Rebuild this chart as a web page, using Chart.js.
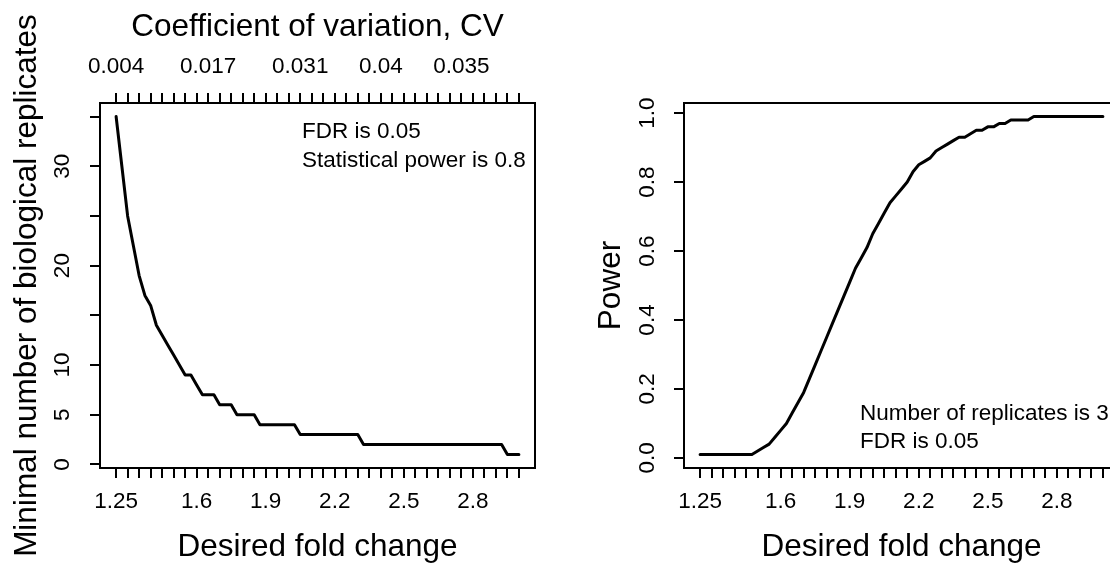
<!DOCTYPE html>
<html><head><meta charset="utf-8">
<script src="https://cdn.jsdelivr.net/npm/chart.js@4.4.1/dist/chart.umd.min.js"></script>
<style>
html,body{margin:0;padding:0;background:#fff;width:1110px;height:573px;overflow:hidden;position:relative}
canvas{position:absolute;top:0}
#c1{left:0}
#c2{left:584px}
</style></head><body>
<canvas id="c1" width="585" height="573"></canvas>
<canvas id="c2" width="585" height="573"></canvas>
<script>
// ---------- data ----------
const foldChange = [
  1.25, 1.275, 1.3, 1.325, 1.35, 1.375, 1.4, 1.425, 1.45, 1.475,
  1.5, 1.525, 1.55, 1.575, 1.6, 1.625, 1.65, 1.675, 1.7, 1.725,
  1.75, 1.775, 1.8, 1.825, 1.85, 1.875, 1.9, 1.925, 1.95, 1.975,
  2.0, 2.025, 2.05, 2.075, 2.1, 2.125, 2.15, 2.175, 2.2, 2.225,
  2.25, 2.275, 2.3, 2.325, 2.35, 2.375, 2.4, 2.425, 2.45, 2.475,
  2.5, 2.525, 2.55, 2.575, 2.6, 2.625, 2.65, 2.675, 2.7, 2.725,
  2.75, 2.775, 2.8, 2.825, 2.85, 2.875, 2.9, 2.925, 2.95, 2.975,
  3.0
];
const minReplicates = [
  35, 30, 25, 22, 19, 17, 16, 14, 13, 12,
  11, 10, 9, 9, 8, 7, 7, 7, 6, 6,
  6, 5, 5, 5, 5, 4, 4, 4, 4, 4,
  4, 4, 3, 3, 3, 3, 3, 3, 3, 3,
  3, 3, 3, 2, 2, 2, 2, 2, 2, 2,
  2, 2, 2, 2, 2, 2, 2, 2, 2, 2,
  2, 2, 2, 2, 2, 2, 2, 2, 1, 1,
  1
];
const power = [
  0.01, 0.01, 0.01, 0.01, 0.01, 0.01, 0.01, 0.01, 0.01, 0.01,
  0.02, 0.03, 0.04, 0.06, 0.08, 0.10, 0.13, 0.16, 0.19, 0.23,
  0.27, 0.31, 0.35, 0.39, 0.43, 0.47, 0.51, 0.55, 0.58, 0.61,
  0.65, 0.68, 0.71, 0.74, 0.76, 0.78, 0.80, 0.83, 0.85, 0.86,
  0.87, 0.89, 0.90, 0.91, 0.92, 0.93, 0.93, 0.94, 0.95, 0.95,
  0.96, 0.96, 0.97, 0.97, 0.98, 0.98, 0.98, 0.98, 0.99, 0.99,
  0.99, 0.99, 0.99, 0.99, 0.99, 0.99, 0.99, 0.99, 0.99, 0.99,
  0.99
];
// tick positions and labels
const xTickValues = [1.25, 1.3, 1.35, 1.4, 1.45, 1.5, 1.55, 1.6, 1.65, 1.7, 1.75, 1.8,
  1.85, 1.9, 1.95, 2.0, 2.05, 2.1, 2.15, 2.2, 2.25, 2.3, 2.35, 2.4, 2.45, 2.5, 2.55,
  2.6, 2.65, 2.7, 2.75, 2.8, 2.85, 2.9, 2.95, 3.0];
const xLabelAt = [1.25, 1.6, 1.9, 2.2, 2.5, 2.8];
const xLabels = ['1.25', '1.6', '1.9', '2.2', '2.5', '2.8'];
const cvLabelAt = [1.25, 1.65, 2.05, 2.4, 2.75];
const cvLabels = ['0.004', '0.017', '0.031', '0.04', '0.035'];
const yTicksLeft = [0, 5, 10, 15, 20, 25, 30, 35];
const yLabelAtLeft = [0, 5, 10, 20, 30];
const yLabelsLeft = ['0', '5', '10', '20', '30'];
const yTicksRight = [0, 0.2, 0.4, 0.6, 0.8, 1.0];
const yLabelsRight = ['0.0', '0.2', '0.4', '0.6', '0.8', '1.0'];
const leftNotes = ['FDR is 0.05', 'Statistical power is 0.8'];
const rightNotes = ['Number of replicates is 3', 'FDR is 0.05'];

// ---------- helpers ----------
const FONT = '"Liberation Sans", Arial, Helvetica, sans-serif';
const TICK_SIZE = 22.5, TITLE_SIZE = 31.5;
Chart.defaults.font.family = FONT;
Chart.defaults.color = '#000';

function labelFor(v, at, labels) {
  for (let i = 0; i < at.length; i++) if (Math.abs(v - at[i]) < 1e-6) return labels[i];
  return '';
}
function setTicks(values) { return s => { s.ticks = values.map(v => ({value: v})); }; }
const gridOpts = {drawOnChartArea: false, drawTicks: true, tickLength: 10, tickWidth: 2,
  tickColor: '#000', color: '#000', lineWidth: 2};

const boxPlugin = {
  id: 'box',
  afterDatasetsDraw(chart) {
    const a = chart.chartArea, ctx = chart.ctx;
    ctx.save();
    ctx.strokeStyle = '#000'; ctx.lineWidth = 2;
    ctx.strokeRect(a.left, a.top, a.right - a.left, a.bottom - a.top);
    ctx.restore();
  }
};
function notesPlugin(lines, dx, dy, lh) {
  return {
    id: 'notes',
    afterDraw(chart) {
      const a = chart.chartArea, ctx = chart.ctx;
      ctx.save();
      ctx.font = TICK_SIZE + 'px ' + FONT;
      ctx.fillStyle = '#000'; ctx.textAlign = 'left'; ctx.textBaseline = 'alphabetic';
      lines.forEach((t, i) => ctx.fillText(t, a.left + dx, a.top + dy + i * lh));
      ctx.restore();
    }
  };
}

function xScale(extra) {
  return Object.assign({
    type: 'linear', position: 'bottom', min: 1.18, max: 3.07,
    afterBuildTicks: setTicks(xTickValues),
    afterFit: s => { s.height = 105; },
    grid: gridOpts, border: {display: false},
    ticks: {autoSkip: false, minRotation: 0, maxRotation: 0, padding: 10.7,
      font: {size: TICK_SIZE}, callback: v => labelFor(v, xLabelAt, xLabels)},
    title: {display: true, text: 'Desired fold change', font: {size: TITLE_SIZE},
      padding: {top: 0, bottom: 7}}
  }, extra || {});
}

// ---------- left chart ----------
new Chart(document.getElementById('c1'), {
  type: 'line',
  data: {
    datasets: [{
      data: foldChange.map((f, i) => ({x: f, y: minReplicates[i]})),
      borderColor: '#000', borderWidth: 3, pointRadius: 0, tension: 0,
      borderJoinStyle: 'round', borderCapStyle: 'round', fill: false
    }]
  },
  options: {
    responsive: false, animation: false, devicePixelRatio: 1,
    layout: {padding: {left: 0, right: 50, top: 0, bottom: 0}},
    plugins: {legend: {display: false}, tooltip: {enabled: false}},
    scales: {
      x: xScale(),
      x2: {
        type: 'linear', position: 'top', min: 1.18, max: 3.07,
        afterBuildTicks: setTicks(xTickValues),
        afterFit: s => { s.height = 103; },
        grid: gridOpts, border: {display: false},
        ticks: {autoSkip: false, minRotation: 0, maxRotation: 0, padding: 12.3,
          font: {size: TICK_SIZE}, callback: v => labelFor(v, cvLabelAt, cvLabels)},
        title: {display: true, text: 'Coefficient of variation, CV', font: {size: TITLE_SIZE},
          padding: {top: 8.5, bottom: 0}}
      },
      y: {
        type: 'linear', position: 'left', min: -0.36, max: 36.36,
        afterBuildTicks: setTicks(yTicksLeft),
        afterFit: s => { s.width = 100; },
        grid: gridOpts, border: {display: false},
        ticks: {autoSkip: false, minRotation: 90, maxRotation: 90, crossAlign: 'center',
          padding: 14.5, font: {size: TICK_SIZE},
          callback: v => labelFor(v, yLabelAtLeft, yLabelsLeft)},
        title: {display: true, text: 'Minimal number of biological replicates',
          font: {size: TITLE_SIZE}, padding: {top: 8, bottom: 0}}
      }
    }
  },
  plugins: [boxPlugin, notesPlugin(leftNotes, 202, 35, 28.7)]
});

// ---------- right chart ----------
new Chart(document.getElementById('c2'), {
  type: 'line',
  data: {
    datasets: [{
      data: foldChange.map((f, i) => ({x: f, y: power[i]})),
      borderColor: '#000', borderWidth: 3, pointRadius: 0, tension: 0,
      borderJoinStyle: 'round', borderCapStyle: 'round', fill: false
    }]
  },
  options: {
    responsive: false, animation: false, devicePixelRatio: 1,
    layout: {padding: {left: 0, right: 50, top: 103, bottom: 0}},
    plugins: {legend: {display: false}, tooltip: {enabled: false}},
    scales: {
      x: xScale(),
      y: {
        type: 'linear', position: 'left', min: -0.0292, max: 1.0292,
        afterBuildTicks: setTicks(yTicksRight),
        afterFit: s => { s.width = 100; },
        grid: gridOpts, border: {display: false},
        ticks: {autoSkip: false, minRotation: 90, maxRotation: 90, crossAlign: 'center',
          padding: 10.4, font: {size: TICK_SIZE},
          callback: v => labelFor(v, yTicksRight, yLabelsRight)},
        title: {display: true, text: 'Power', font: {size: TITLE_SIZE},
          padding: {top: 8, bottom: 0}}
      }
    }
  },
  plugins: [boxPlugin, notesPlugin(rightNotes, 176, 316.5, 28.7)]
});
</script>
</body></html>
